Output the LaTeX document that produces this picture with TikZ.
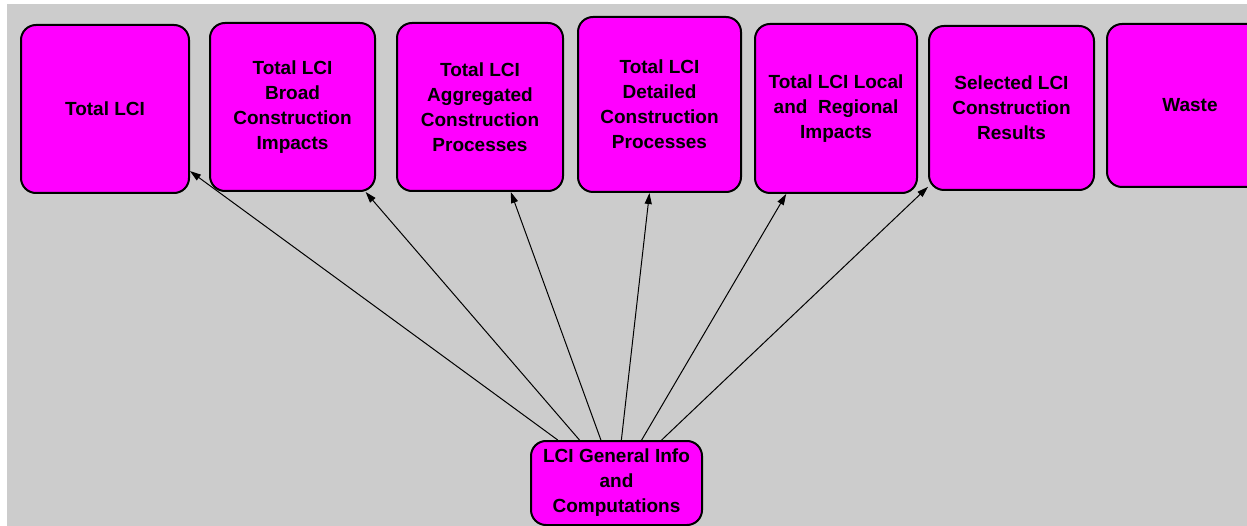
\documentclass[tikz,border=0pt]{standalone}
\usepackage{fontspec}
\setmainfont{Liberation Sans}
\usetikzlibrary{arrows.meta}
\definecolor{canvas}{HTML}{CCCCCC}
\definecolor{boxfill}{HTML}{FF00FF}
\tikzset{
  infobox/.style={draw=black, line width=2pt, fill=boxfill, rounded corners=15pt,
    align=center, inner sep=0pt, text=black,
    font=\bfseries\fontsize{19}{25}\selectfont},
  link/.style={draw=black, line width=1pt, -{Triangle[length=11pt,width=7pt]}}
}
\begin{document}
\begin{tikzpicture}[x=1pt,y=-1pt]
  \useasboundingbox (0,0) rectangle (1247,526);
  \fill[white] (0,0) rectangle (1247,526);
  \fill[canvas] (7,4) rectangle (1247,526);
  \clip (7,4) rectangle (1247,526);

  % result boxes along the top
  \node[infobox, minimum width=168pt, minimum height=168pt] (t1) at (105,109) {Total LCI};
  \node[infobox, minimum width=165pt, minimum height=168pt] (t2) at (292.5,107)
    {Total LCI\\Broad\\Construction\\Impacts};
  \node[infobox, minimum width=166pt, minimum height=168pt] (t3) at (480,107)
    {Total LCI\\Aggregated\\Construction\\Processes};
  \node[infobox, minimum width=163pt, minimum height=175pt] (t4) at (659.5,104.5)
    {Total LCI\\Detailed\\Construction\\Processes};
  \node[infobox, minimum width=162pt, minimum height=169pt] (t5) at (836,108.5)
    {Total LCI Local\\and\ \ Regional\\Impacts};
  \node[infobox, minimum width=165pt, minimum height=164pt] (t6) at (1011.5,108)
    {Selected LCI\\Construction\\Results};
  \node[infobox, minimum width=166pt, minimum height=163pt] (t7) at (1190,105.5) {Waste};

  % source box
  \node[infobox, minimum width=171pt, minimum height=84pt] (b) at (616.5,483)
    {LCI General Info\\and\\Computations};

  % links from the source box
  \foreach \t in {t1,t2,t3,t4,t5,t6}
    \draw[link] (b) -- (\t);
\end{tikzpicture}
\end{document}
